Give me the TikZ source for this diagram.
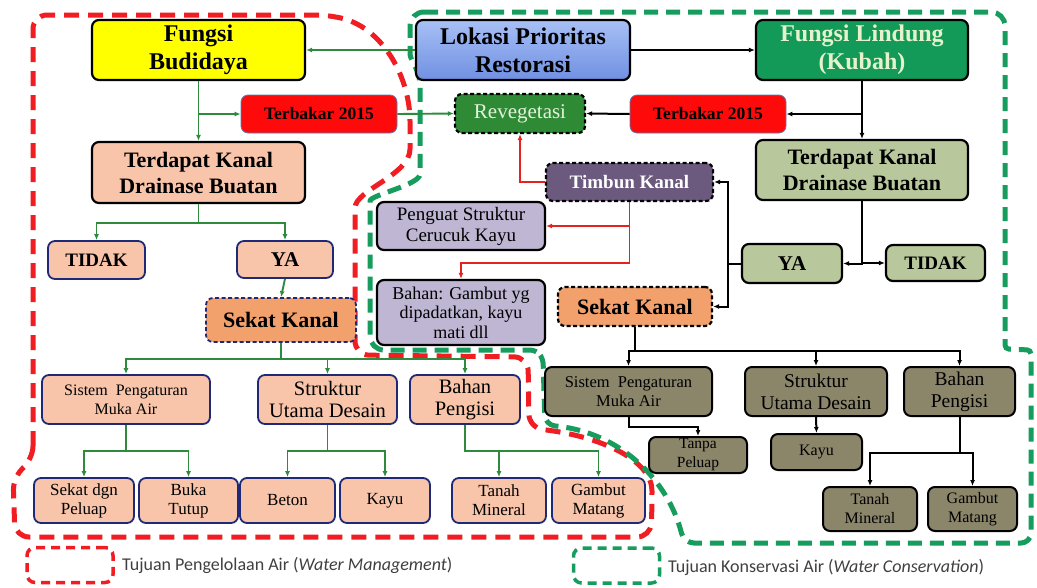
\documentclass[tikz,border=0pt]{standalone}
\usepackage{fontspec}
\setmainfont{Liberation Serif}
\newfontfamily\legfont{Carlito}
\usetikzlibrary{arrows.meta}
\definecolor{cYel}{HTML}{FFFF00}
\definecolor{cBlueT}{HTML}{A8C0F6}
\definecolor{cBlueB}{HTML}{7090E2}
\definecolor{cLind}{HTML}{139A58}
\definecolor{cLindTxt}{HTML}{E6F2CC}
\definecolor{cRed}{HTML}{FF0A0A}
\definecolor{cRedBd}{HTML}{5B7DB8}
\definecolor{cReveg}{HTML}{2F8A36}
\definecolor{cRevTxt}{HTML}{E4F2DC}
\definecolor{cSalmon}{HTML}{F8C4AA}
\definecolor{cNavy}{HTML}{1E2A78}
\definecolor{cOrange}{HTML}{F2A06C}
\definecolor{cOlive}{HTML}{B8C89C}
\definecolor{cTimbun}{HTML}{6B5A7E}
\definecolor{cLav}{HTML}{BEB6D2}
\definecolor{cDark}{HTML}{8B856A}
\definecolor{cGLine}{HTML}{2E8B3E}
\definecolor{cRLine}{HTML}{E42222}
\definecolor{cRDash}{HTML}{F01E23}
\definecolor{cGDash}{HTML}{169C5C}
\definecolor{cLeg}{HTML}{404040}
\tikzset{
  bx/.style={rounded corners=7pt, line width=2.2pt, draw=black, align=center, inner sep=0pt},
  sz/.style 2 args={minimum width=#1pt, minimum height=#2pt},
  salm/.style={bx, fill=cSalmon, draw=cNavy, line width=1.8pt},
  oliv/.style={bx, fill=cOlive},
  dark/.style={bx, fill=cDark, line width=2pt},
  lav/.style={bx, fill=cLav},
  burn/.style={bx, fill=cRed, draw=cRedBd, line width=0.8pt, font=\fontsize{17.5}{20}\selectfont\bfseries},
  dsh/.style={dash pattern=on 4pt off 2.5pt},
  gl/.style={draw=cGLine, line width=1.9pt, -{Latex[length=6pt,width=5pt]}},
  kl/.style={draw=black, line width=2pt, -{Latex[length=6pt,width=5pt]}},
  rl/.style={draw=cRLine, line width=1.9pt, -{Latex[length=6pt,width=5pt]}},
  rdash/.style={draw=cRDash, line width=5pt, dash pattern=on 15pt off 9pt},
  gdash/.style={draw=cGDash, line width=5pt, dash pattern=on 14pt off 8pt},
  legbox/.style={rounded corners=8pt, line width=3.5pt, dash pattern=on 9pt off 6pt, minimum width=86pt, minimum height=35pt, inner sep=0pt},
  legtxt/.style={anchor=west, inner sep=0pt, text=cLeg, font=\legfont\fontsize{18}{20}\selectfont}
}
\begin{document}
\begin{tikzpicture}[x=1pt,y=-1pt]
\useasboundingbox[fill=white] (0,0) rectangle (1037,587);
% regions
\draw[rdash, rounded corners=14pt] (33,460) -- (33,15) -- (330,15)
  .. controls (385,30) and (410,80) .. (410,135)
  .. controls (410,175) and (355,190) .. (355,222) -- (355,355) -- (528,357) -- (529,428)
  .. controls (600,436) and (652,460) .. (652,505) -- (651,537) -- (15,537) -- (13,476) -- cycle;
\draw[gdash, rounded corners=14pt] (410,12) -- (1005,12) [rounded corners=4pt] -- (1005,349) -- (1031,350) [rounded corners=10pt] -- (1031,543) -- (684,543)
  .. controls (668,480) and (620,432) .. (545,425) [rounded corners=6pt] -- (543,358) -- (536,350) [rounded corners=14pt] -- (370,350) -- (370,215)
  .. controls (370,195) and (420,185) .. (420,160) -- (420,100)
  .. controls (420,70) and (410,60) .. (410,40) -- cycle;
% top row
\node[bx, sz={213}{60}, fill=cYel, font=\fontsize{24}{28}\selectfont\bfseries] (budi) at (198.5,50) {Fungsi\\Budidaya};
\node[bx, sz={214}{60}, top color=cBlueT, bottom color=cBlueB, font=\fontsize{24}{28}\selectfont\bfseries] (lok) at (523,50) {Lokasi Prioritas\\Restorasi};
\node[bx, sz={212}{60}, fill=cLind, text=cLindTxt, font=\fontsize{24}{28}\selectfont\bfseries] (lind) at (862,50) {Fungsi Lindung\\(Kubah)};
% row 2
\node[burn, sz={156}{38}] (terbL) at (319,114) {Terbakar 2015};
\node[bx, dsh, sz={130}{39}, fill=cReveg, text=cRevTxt, font=\fontsize{21}{24}\selectfont] (reveg) at (520,113.5) {Revegetasi};
\node[burn, sz={156}{38}] (terbR) at (708,114) {Terbakar 2015};
% kanal
\node[bx, sz={213}{61}, fill=cSalmon, font=\fontsize{22}{26}\selectfont\bfseries] (kanalL) at (198.5,172.5) {Terdapat Kanal\\Drainase Buatan};
\node[oliv, sz={212}{60}, font=\fontsize{22}{26}\selectfont\bfseries] (kanalR) at (862,170) {Terdapat Kanal\\Drainase Buatan};
% middle
\node[bx, dsh, sz={167}{38}, fill=cTimbun, text=white, font=\fontsize{19}{22}\selectfont\bfseries] (timbun) at (629.5,182) {Timbun Kanal};
\node[lav, sz={168}{48}, font=\fontsize{19}{21}\selectfont] (penguat) at (461,226) {Penguat Struktur\\Cerucuk Kayu};
\node[lav, sz={168}{65}, font=\fontsize{18}{19.5}\selectfont] (bahan) at (461,312.5) {Bahan: Gambut yg\\dipadatkan, kayu\\mati dll};
\node[bx, dsh, sz={154}{39}, fill=cOrange, font=\fontsize{22}{25}\selectfont\bfseries] (sekatR) at (635,306.5) {Sekat Kanal};
% left ya/tidak
\node[salm, sz={97}{38}, font=\fontsize{19}{22}\selectfont\bfseries] (tidakL) at (96.5,260) {TIDAK};
\node[salm, sz={96}{37}, font=\fontsize{21}{24}\selectfont\bfseries] (yaL) at (285,259.5) {YA};
\node[bx, dsh, draw=cNavy, line width=1.8pt, sz={150}{44}, fill=cOrange, font=\fontsize{22}{25}\selectfont\bfseries] (sekatL) at (281,320) {Sekat Kanal};
% right ya/tidak
\node[oliv, sz={100}{39}, font=\fontsize{21}{24}\selectfont\bfseries] (yaR) at (792,263.5) {YA};
\node[oliv, sz={99}{36}, font=\fontsize{19}{22}\selectfont\bfseries] (tidakR) at (935.5,263) {TIDAK};
% left level 2
\node[salm, sz={168}{49}, font=\fontsize{16}{19}\selectfont] (sisL) at (126,399.5) {Sistem\ \ Pengaturan\\Muka Air};
\node[salm, sz={139}{49}, font=\fontsize{20.5}{22}\selectfont] (strL) at (327.5,399.5) {Struktur\\Utama Desain};
\node[salm, sz={110}{49}, font=\fontsize{20.5}{22}\selectfont] (bhnL) at (465,399.5) {Bahan\\Pengisi};
% left bottom row
\node[salm, sz={100}{45}, font=\fontsize{17}{19}\selectfont] (b1) at (84,500.5) {Sekat dgn\\Peluap};
\node[salm, sz={99}{45}, font=\fontsize{17}{19}\selectfont] (b2) at (188.5,500.5) {Buka\\Tutup};
\node[salm, sz={95}{45}, font=\fontsize{17}{19}\selectfont] (b3) at (287.5,500.5) {Beton};
\node[salm, sz={90}{45}, font=\fontsize{17}{19}\selectfont] (b4) at (385,500.5) {Kayu};
\node[salm, sz={94}{45}, font=\fontsize{17}{19}\selectfont] (b5) at (499,500.5) {Tanah\\Mineral};
\node[salm, sz={93}{45}, font=\fontsize{17}{19}\selectfont] (b6) at (598.5,500.5) {Gambut\\Matang};
% right level 2
\node[dark, sz={167}{49}, font=\fontsize{16.5}{19}\selectfont] (sisR) at (628.5,391.5) {Sistem\ \ Pengaturan\\Muka Air};
\node[dark, sz={142}{49}, font=\fontsize{19.5}{22}\selectfont] (strR) at (816,391.5) {Struktur\\Utama Desain};
\node[dark, sz={111}{49}, font=\fontsize{19.5}{22}\selectfont] (bhnR) at (959.5,391.5) {Bahan\\Pengisi};
\node[dark, sz={98}{36}, font=\fontsize{15.5}{19}\selectfont] (tanpa) at (698,455) {Tanpa\\Peluap};
\node[dark, sz={91}{36}, font=\fontsize{16}{19}\selectfont] (kayuR) at (816.5,452) {Kayu};
\node[dark, sz={94}{44}, font=\fontsize{16}{19}\selectfont] (tanahR) at (870,509) {Tanah\\Mineral};
\node[dark, sz={89}{44}, font=\fontsize{16}{19}\selectfont] (gambutR) at (972.5,509) {Gambut\\Matang};
% green connectors
\draw[gl] (lok.west) -- (budi.east);
\draw[gl] (budi.south) -- (kanalL.north);
\draw[gl] (budi.south |- terbL.west) -- (terbL.west);
\draw[gl] (terbL.east) -- (reveg.west);
\draw[gl] (kanalL.south) -- ++(0,19) -| (tidakL.north);
\draw[gl] (kanalL.south) -- ++(0,19) -| (yaL.north);
\draw[gl] (yaL.south) -- (sekatL.north);
\draw[gl] (sekatL.south) -- ++(0,16) -| (sisL.north);
\draw[gl] (sekatL.south) -- ++(0,16) -| (strL.north);
\draw[gl] (sekatL.south) -- ++(0,16) -| (bhnL.north);
\draw[gl] (sisL.south) -- ++(0,26) -| (b1.north);
\draw[gl] (sisL.south) -- ++(0,26) -| (b2.north);
\draw[gl] (strL.south) -- ++(0,26) -| (b3.north);
\draw[gl] (strL.south) -- ++(0,26) -| (b4.north);
\draw[gl] (bhnL.south) -- ++(0,26) -| (b5.north);
\draw[gl] (bhnL.south) -- ++(0,26) -| (b6.north);
% black connectors
\draw[kl] (lok.east) -- (lind.west);
\draw[kl] (lind.south) -- (kanalR.north);
\draw[kl] (lind.south |- terbR.east) -- (terbR.east);
\draw[kl] (terbR.west) -- (reveg.east);
\draw[kl] (kanalR.south) |- (yaR.east);
\draw[kl] (kanalR.south) |- (tidakR.west);
\coordinate (yaJ) at (728,263.5);
\draw[kl, -] (yaR.west) -- (yaJ);
\draw[kl] (yaJ) |- (timbun.east);
\draw[kl] (yaJ) |- (sekatR.east);
\draw[kl] (sekatR.south) -- ++(0,24) -| (sisR.north);
\draw[kl] (sekatR.south) -- ++(0,24) -| (strR.north);
\draw[kl] (sekatR.south) -- ++(0,24) -| (bhnR.north);
\draw[kl] (sisR.south) -- ++(0,10) -| (tanpa.north);
\draw[kl] (strR.south) -- (kayuR.north);
\draw[kl] (bhnR.south) -- ++(0,36) -| (tanahR.north);
\draw[kl] (bhnR.south) -- ++(0,36) -| (gambutR.north);
% red connectors
\draw[rl] (timbun.west) -| (reveg.south);
\draw[rl] (timbun.south) -- ++(0,61) -| (bahan.north);
\draw[rl] (timbun.south |- penguat.east) -- (penguat.east);
% legend
\node[legbox, draw=cRDash] (legR) at (70,565) {};
\node[legtxt] (legRt) at (122,565) {Tujuan Pengelolaan Air (\textit{Water Management})};
\node[legbox, draw=cGDash] (legG) at (616.5,565.5) {};
\node[legtxt] (legGt) at (668,567) {Tujuan Konservasi Air (\textit{Water Conservation})};
\end{tikzpicture}
\end{document}
